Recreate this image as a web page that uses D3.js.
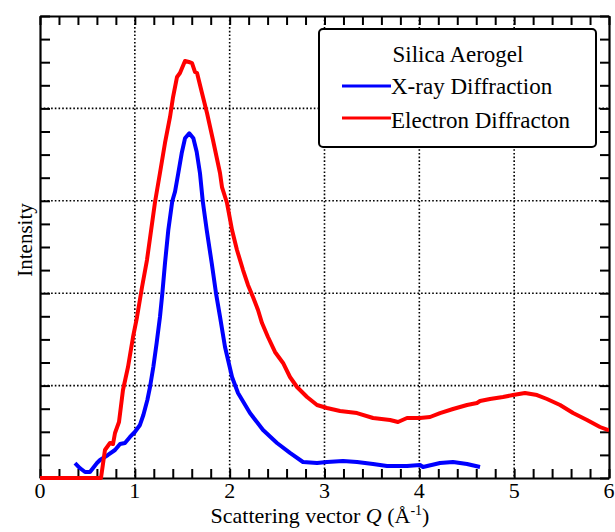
<!DOCTYPE html>
<html>
<head>
<meta charset="utf-8">
<script src="https://cdn.jsdelivr.net/npm/d3@7"></script>
<style>
  html, body { margin: 0; padding: 0; background: #fff; }
  svg { display: block; }
</style>
</head>
<body>
<svg id="chart" width="615" height="532"></svg>
<script>
// ---- Data ----
const xrayQ = [0.369,0.42,0.475,0.527,0.601,0.633,0.717,0.791,0.844,0.896,0.949,1.0,1.054,1.09,1.132,1.16,1.195,1.23,1.265,1.29,1.318,1.353,1.395,1.424,1.458,1.494,1.529,1.574,1.617,1.652,1.687,1.716,1.758,1.811,1.856,1.898,1.951,2.025,2.088,2.214,2.352,2.499,2.636,2.773,2.921,3.026,3.195,3.343,3.512,3.659,3.87,4.007,4.039,4.218,4.355,4.503,4.64];
const xrayI = [0.162,0.108,0.065,0.065,0.162,0.195,0.249,0.303,0.368,0.379,0.444,0.498,0.574,0.682,0.844,0.985,1.201,1.461,1.742,1.999,2.324,2.684,2.998,3.099,3.298,3.514,3.676,3.731,3.676,3.531,3.298,2.998,2.684,2.324,1.999,1.746,1.418,1.093,0.92,0.703,0.519,0.379,0.271,0.173,0.162,0.173,0.184,0.173,0.152,0.13,0.13,0.141,0.119,0.162,0.173,0.152,0.119];

const elecQ = [0,0.643,0.685,0.738,0.77,0.791,0.833,0.875,0.928,0.981,1.023,1.076,1.128,1.213,1.265,1.318,1.371,1.403,1.445,1.476,1.529,1.571,1.603,1.634,1.656,1.708,1.761,1.824,1.898,1.919,1.972,2.025,2.077,2.141,2.193,2.246,2.299,2.341,2.404,2.478,2.563,2.636,2.71,2.816,2.921,3.026,3.164,3.343,3.512,3.691,3.775,3.87,4.007,4.113,4.218,4.355,4.503,4.608,4.64,4.745,4.882,4.988,5.114,5.241,5.346,5.484,5.621,5.768,5.905,6.0];
const elecI = [0,0,0.303,0.379,0.368,0.487,0.606,0.952,1.201,1.526,1.742,2.067,2.359,2.987,3.301,3.626,3.907,4.123,4.34,4.383,4.513,4.502,4.491,4.394,4.383,4.167,3.95,3.658,3.301,3.149,2.976,2.684,2.468,2.251,2.089,1.959,1.818,1.677,1.526,1.364,1.245,1.093,0.985,0.877,0.79,0.758,0.725,0.703,0.649,0.628,0.606,0.649,0.649,0.66,0.703,0.747,0.79,0.812,0.833,0.855,0.877,0.898,0.92,0.898,0.855,0.79,0.703,0.628,0.552,0.515];

const xMajorTicks = [0,1,2,3,4,5,6];
const xTickLabels = ["0","1","2","3","4","5","6"];
const yGridValues = [1,2,3,4];
const legendTitle = "Silica Aerogel";
const seriesNames = ["X-ray Diffraction", "Electron Diffracton"];
const seriesColors = ["#0000ff", "#ff0000"];

// ---- Layout ----
const FONT = "'Liberation Serif', 'DejaVu Serif', serif";
const L = 40, R = 609, T = 16, B = 478;
const svg = d3.select("#chart").attr("font-family", FONT);
const x = d3.scaleLinear().domain([0, 6]).range([L, R]);
const y = d3.scaleLinear().domain([0, 5]).range([B, T]);

const xMinor = d3.range(0, 6.0001, 0.2).map(v => +v.toFixed(2));
const yMinor = d3.range(0, 5.0001, 0.25).map(v => +v.toFixed(2));

// grid
const grid = svg.append("g").attr("stroke", "#000").attr("stroke-width", 1.6)
  .attr("stroke-dasharray", "1.6,2.1");
grid.selectAll("line.gx").data([1,2,3,4,5]).enter().append("line")
  .attr("x1", d => x(d)).attr("x2", d => x(d)).attr("y1", T).attr("y2", B);
grid.selectAll("line.gy").data(yGridValues).enter().append("line")
  .attr("x1", L).attr("x2", R).attr("y1", d => y(d)).attr("y2", d => y(d));

// axes (inward ticks)
function styleAxis(g) {
  g.attr("font-family", null);
  g.select(".domain").attr("stroke", "#000").attr("stroke-width", 2.2);
  g.selectAll(".tick line").attr("stroke", "#000").attr("stroke-width", 2);
  g.selectAll(".tick text").remove();
}
svg.append("g").attr("transform", `translate(0,${B})`)
  .call(d3.axisBottom(x).tickValues(xMinor).tickSizeInner(-9).tickSizeOuter(0)).call(styleAxis);
svg.append("g").attr("transform", `translate(0,${T})`)
  .call(d3.axisTop(x).tickValues(xMinor).tickSizeInner(-9).tickSizeOuter(0)).call(styleAxis);
svg.append("g").attr("transform", `translate(${L},0)`)
  .call(d3.axisLeft(y).tickValues(yMinor).tickSizeInner(-10).tickSizeOuter(0)).call(styleAxis);
svg.append("g").attr("transform", `translate(${R},0)`)
  .call(d3.axisRight(y).tickValues(yMinor).tickSizeInner(-9).tickSizeOuter(0)).call(styleAxis);

// x tick labels
svg.append("g").selectAll("text").data(xMajorTicks).enter().append("text")
  .attr("x", d => x(d)).attr("y", 498).attr("text-anchor", "middle")
  .attr("font-family", FONT).attr("font-size", 22).text((d, i) => xTickLabels[i]);

// axis titles
const xt = svg.append("text").attr("x", 320).attr("y", 523).attr("text-anchor", "middle")
  .attr("font-family", FONT).attr("font-size", 22);
xt.append("tspan").text("Scattering vector ");
xt.append("tspan").attr("font-style", "italic").text("Q");
xt.append("tspan").text(" (Å");
xt.append("tspan").attr("font-size", 14).attr("dy", -8).text("-1");
xt.append("tspan").attr("dy", 8).text(")");

svg.append("text").attr("transform", "translate(32,240) rotate(-90)")
  .attr("text-anchor", "middle").attr("font-family", FONT).attr("font-size", 21).text("Intensity");

// curves
svg.append("defs").append("clipPath").attr("id", "clip")
  .append("rect").attr("x", L - 3).attr("y", T).attr("width", R - L + 3).attr("height", B - T + 3);
const line = d3.line().x(d => x(d[0])).y(d => y(d[1]));
const series = [
  d3.zip(xrayQ, xrayI),
  d3.zip(elecQ, elecI)
];
svg.append("g").attr("clip-path", "url(#clip)").selectAll("path").data(series).enter().append("path")
  .attr("d", line).attr("fill", "none")
  .attr("stroke", (d, i) => seriesColors[i]).attr("stroke-width", 4)
  .attr("stroke-linejoin", "round").attr("stroke-linecap", "butt");

// legend
const lg = svg.append("g");
lg.append("rect").attr("x", 319).attr("y", 29).attr("width", 277).attr("height", 118)
  .attr("rx", 4).attr("fill", "#fff").attr("stroke", "#000").attr("stroke-width", 2);
lg.append("text").attr("x", 458).attr("y", 62).attr("text-anchor", "middle")
  .attr("font-family", FONT).attr("font-size", 23).text(legendTitle);
const lyLine = [86, 118], lyText = [94, 128];
seriesNames.forEach((n, i) => {
  lg.append("line").attr("x1", 342).attr("x2", 391).attr("y1", lyLine[i]).attr("y2", lyLine[i])
    .attr("stroke", seriesColors[i]).attr("stroke-width", 3);
  lg.append("text").attr("x", 391).attr("y", lyText[i])
    .attr("font-family", FONT).attr("font-size", 23).text(n);
});
</script>
</body>
</html>
